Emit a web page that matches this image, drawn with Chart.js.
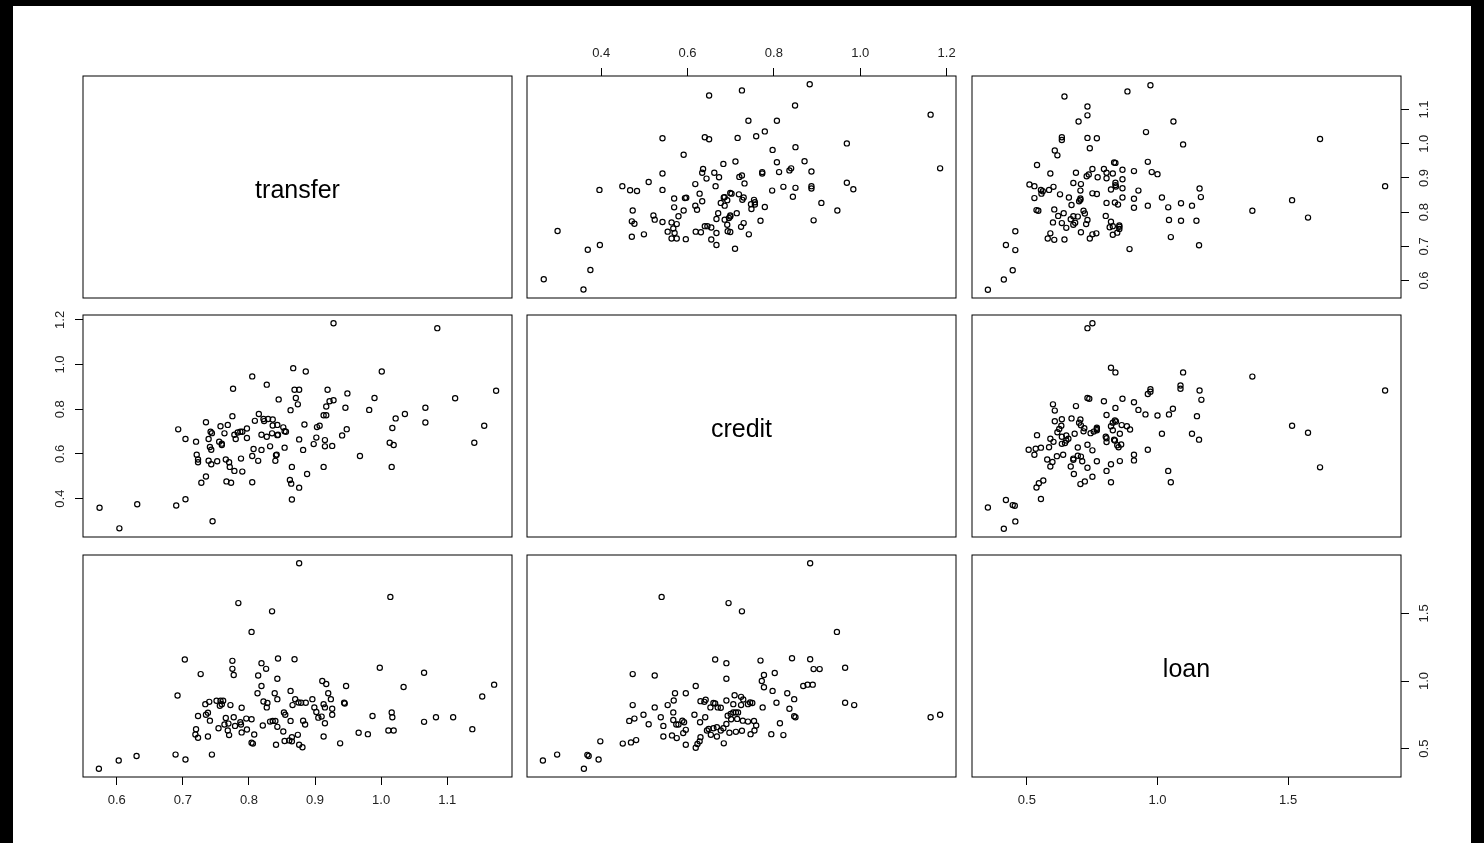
<!DOCTYPE html>
<html>
<head>
<meta charset="utf-8">
<title>pairs</title>
<script src="https://cdn.jsdelivr.net/npm/chart.js@4.4.1/dist/chart.umd.min.js"></script>
<style>
    body { margin: 0; background: #000; width: 1484px; height: 843px; overflow: hidden; }
    #frame { position: absolute; left: 13px; top: 6px; width: 1458px; height: 837px; background: #fff; }
    .panel { position: absolute; }
</style>
</head>
<body>
<div id="frame"></div>
<div id="output"></div>
<script>
// variable names (diagonal)
var vars = ['transfer', 'credit', 'loan'];

// tick labels per variable
var tickTransfer = [0.6, 0.7, 0.8, 0.9, 1.0, 1.1];
var tickCredit = [0.4, 0.6, 0.8, 1.0, 1.2];
var tickLoan = [0.5, 1.0, 1.5];

// transfer / credit pairs
var tcTransfer = [0.574,0.604,0.631,0.690,0.704,0.745,0.693,0.704,0.720,0.735,0.739,0.742,0.744,0.741,0.743,0.721,0.723,0.723,0.739,0.743,
    0.752,0.735,0.728,0.757,0.768,0.775,0.763,0.755,0.759,0.759,0.765,0.770,0.771,0.778,0.766,0.773,0.790,0.805,0.788,0.778,
    0.780,0.783,0.787,0.790,0.797,0.797,0.776,0.805,0.827,0.809,0.815,0.822,0.823,0.829,0.836,0.836,0.843,0.852,0.854,0.856,
    0.843,0.844,0.819,0.827,0.835,0.807,0.819,0.805,0.814,0.832,0.841,0.842,0.840,0.854,0.845,0.863,0.867,0.869,0.876,0.871,
    0.874,0.876,0.865,0.862,0.864,0.876,0.865,
    0.928,1.085,0.886,1.001,0.919,0.949,0.990,0.922,0.928,0.917,0.946,0.982,0.913,0.917,1.022,1.036,1.067,1.067,1.112,1.174,
    1.156,1.141,1.017,0.884,0.903,0.907,0.948,0.941,0.882,0.902,0.898,0.915,0.915,0.926,0.968,1.013,1.019,1.016,0.913,0.888];
var tcCredit = [0.359,0.267,0.375,0.369,0.397,0.299,0.710,0.667,0.655,0.742,0.667,0.699,0.693,0.631,0.619,0.596,0.575,0.563,0.570,0.554,
    0.567,0.499,0.471,0.724,0.730,0.769,0.692,0.655,0.646,0.640,0.575,0.563,0.542,0.524,0.477,0.471,0.521,0.473,0.579,0.686,
    0.667,0.696,0.699,0.699,0.714,0.671,0.892,0.947,0.910,0.748,0.779,0.756,0.747,0.756,0.754,0.727,0.730,0.719,0.702,0.699,
    0.684,0.686,0.686,0.677,0.692,0.622,0.618,0.591,0.569,0.634,0.594,0.597,0.569,0.628,0.844,0.796,0.984,0.887,0.887,0.850,
    0.822,0.665,0.542,0.483,0.467,0.449,0.396,
    1.185,1.163,0.969,0.969,0.887,0.871,0.850,0.836,0.840,0.812,0.807,0.797,0.773,0.773,0.759,0.779,0.807,0.741,0.849,0.883,
    0.726,0.650,0.716,0.732,0.720,0.726,0.711,0.683,0.618,0.673,0.644,0.662,0.634,0.636,0.591,0.650,0.640,0.542,0.542,0.510];

// transfer / loan pairs
var tlTransfer = [0.573,0.603,0.630,0.689,0.704,0.744,0.692,0.703,0.727,0.784,0.835,0.804,0.876,0.775,0.775,0.777,0.819,0.826,0.844,0.869,
    0.814,0.843,0.819,0.813,0.822,0.828,0.827,0.839,0.843,0.863,0.870,0.866,0.875,0.853,0.855,0.863,0.734,0.740,0.751,0.757,
    0.761,0.756,0.759,0.772,0.789,0.723,0.735,0.738,0.741,0.720,0.719,0.723,0.738,0.754,0.765,0.763,0.769,0.777,0.768,0.770,
    0.779,0.787,0.788,0.796,0.804,0.789,0.797,0.808,0.804,0.806,0.821,0.832,0.836,0.840,0.843,0.841,0.852,0.854,0.861,0.865,
    0.865,0.874,0.876,
    1.014,0.998,1.065,1.034,1.171,1.153,1.138,1.109,1.083,1.065,1.016,1.017,1.011,1.019,0.987,0.980,0.966,0.938,0.913,0.947,
    0.911,0.917,0.920,0.924,0.896,0.944,0.945,0.899,0.913,0.915,0.926,0.926,0.902,0.905,0.910,0.915,0.882,0.885,0.879,0.886,
    0.881];
var tlLoan = [0.351,0.412,0.446,0.456,0.420,0.456,0.893,1.159,1.051,1.576,1.515,1.363,1.871,1.149,1.090,1.044,1.132,1.090,1.166,1.161,
    1.041,1.017,0.963,0.910,0.849,0.837,0.805,0.910,0.866,0.927,0.866,0.822,0.841,0.768,0.751,0.705,0.829,0.846,0.854,0.854,
    0.854,0.817,0.829,0.822,0.802,0.741,0.751,0.766,0.707,0.644,0.605,0.580,0.590,0.651,0.727,0.678,0.685,0.732,0.634,0.600,
    0.668,0.695,0.678,0.722,0.717,0.620,0.641,0.605,0.544,0.537,0.671,0.700,0.705,0.705,0.661,0.529,0.627,0.556,0.561,0.554,
    0.585,0.602,0.529,
    1.622,1.098,1.061,0.956,0.973,0.885,0.644,0.732,0.732,0.698,0.768,0.732,0.634,0.634,0.741,0.607,0.617,0.539,0.590,0.963,
    1.000,0.978,0.910,0.866,0.866,0.839,0.834,0.805,0.829,0.805,0.795,0.751,0.771,0.729,0.737,0.688,0.707,0.678,0.839,0.839,
    0.510];

// credit / loan pairs
var clCredit = [0.265,0.298,0.360,0.368,0.371,0.394,0.398,0.450,0.469,0.481,0.473,0.524,0.540,0.695,0.726,0.664,0.690,0.690,0.619,0.596,
    0.571,0.568,0.554,0.524,0.473,0.498,0.465,0.477,0.510,0.538,0.544,0.544,0.564,0.575,0.567,0.567,0.574,0.579,0.588,0.592,
    0.596,0.590,0.596,0.616,0.629,0.641,0.630,0.642,0.639,0.660,0.664,0.670,0.677,0.653,0.630,0.619,0.623,0.628,0.645,0.649,
    0.654,0.660,0.668,0.677,0.668,0.684,0.683,0.690,0.693,0.700,0.706,0.712,0.717,0.701,0.715,0.697,0.712,0.726,0.690,0.709,
    0.724,0.706,0.724,0.728,
    0.884,0.946,0.769,0.842,0.884,0.892,0.906,0.965,0.777,0.802,0.772,0.777,0.797,0.868,0.878,0.890,0.831,0.847,0.806,0.774,
    0.836,0.847,0.850,0.814,0.794,0.822,0.965,0.986,1.163,1.185,0.729,0.740,0.745,0.750,0.740,0.754,0.759,0.755,0.746];
var clLoan = [0.412,0.456,0.351,0.454,0.446,0.420,0.554,0.537,0.546,0.563,1.051,1.041,1.622,1.576,1.515,1.159,1.132,1.017,0.963,0.910,
    0.910,0.856,0.822,0.805,0.822,0.751,0.705,0.722,0.680,0.732,0.668,0.590,0.598,0.578,0.768,0.712,0.678,0.678,0.707,0.695,
    0.639,0.615,0.529,0.751,0.695,0.732,0.851,0.861,0.846,0.837,0.834,0.805,0.802,0.805,0.585,0.507,0.534,0.554,0.634,0.646,
    0.602,0.651,0.659,0.634,0.590,0.539,0.651,0.683,0.744,0.756,0.768,0.768,0.768,0.717,0.720,0.617,0.624,0.632,0.856,0.895,
    0.883,0.829,0.822,0.707,
    1.871,1.363,1.151,1.168,1.161,1.088,1.088,1.098,1.044,1.059,1.000,0.954,0.927,0.963,0.973,0.973,0.910,0.866,0.839,0.805,
    0.795,0.739,0.732,0.688,0.607,0.600,0.839,0.822,0.732,0.751,0.863,0.829,0.841,0.837,0.700,0.705,0.671,0.634,0.607];

var ticks = { transfer: tickTransfer, credit: tickCredit, loan: tickLoan };
var series = {
    'transfer|credit': [tcTransfer, tcCredit],
    'transfer|loan': [tlTransfer, tlLoan],
    'credit|loan': [clCredit, clLoan]
};

// panel geometry (plot boxes)
var colLeft = [83, 527, 972];
var rowTop = [76, 315, 555];
var boxW = 429, boxH = 222, M = 40;
var tickFont = { family: '"Liberation Sans", Arial, sans-serif', size: 13 };

// axis range like R: data range + 4%
function limits(v) {
    var all = [];
    Object.keys(series).forEach(function (k) {
        var names = k.split('|');
        if (names[0] === v) all = all.concat(series[k][0]);
        if (names[1] === v) all = all.concat(series[k][1]);
    });
    var lo = Math.min.apply(null, all), hi = Math.max.apply(null, all);
    var d = (hi - lo) * 0.04;
    return [lo - d, hi + d];
}

function points(xv, yv) {
    if (xv === yv) return [];
    var s = series[xv + '|' + yv], flip = false;
    if (!s) { s = series[yv + '|' + xv]; flip = true; }
    var xs = flip ? s[1] : s[0], ys = flip ? s[0] : s[1];
    return xs.map(function (x, i) { return { x: x, y: ys[i] }; });
}

function axis(v, pos, horizontal) {
    var lim = limits(v);
    var show = pos !== null;
    return {
        type: 'linear',
        position: pos || (horizontal ? 'bottom' : 'left'),
        min: lim[0], max: lim[1], bounds: 'data',
        grid: { display: show, drawOnChartArea: false, drawTicks: true, tickLength: 8, color: '#000', lineWidth: 1 },
        border: { display: false },
        ticks: {
            display: show, autoSkip: false, color: '#222', font: tickFont,
            minRotation: horizontal ? 0 : 90, maxRotation: horizontal ? 0 : 90,
            crossAlign: horizontal ? 'near' : 'center',
            padding: horizontal ? (pos === 'top' ? 7 : 8) : 6,
            callback: function (value) { return value.toFixed(1); }
        },
        afterBuildTicks: function (scale) {
            scale.ticks = ticks[v].map(function (t) { return { value: t }; });
        },
        afterFit: function (scale) {
            if (horizontal) scale.height = M; else scale.width = M;
        }
    };
}

// box round the panel and name on the diagonal
var panelBox = {
    id: 'panelBox',
    afterDraw: function (chart, args, opts) {
        var a = chart.chartArea, ctx = chart.ctx;
        ctx.save();
        ctx.strokeStyle = '#000';
        ctx.lineWidth = 1;
        ctx.strokeRect(a.left, a.top, a.right - a.left, a.bottom - a.top);
        if (opts.label) {
            ctx.font = '25px "Liberation Sans", Arial, sans-serif';
            ctx.fillStyle = '#000';
            ctx.textAlign = 'center';
            ctx.textBaseline = 'middle';
            ctx.fillText(opts.label, (a.left + a.right) / 2, (a.top + a.bottom) / 2 + 4);
        }
        ctx.restore();
    }
};

function makePanel(i, j) {
    var out = document.getElementById('output');
    var div = document.createElement('div');
    div.className = 'panel';
    div.style.left = (colLeft[j] - M) + 'px';
    div.style.top = (rowTop[i] - M) + 'px';
    var canvas = document.createElement('canvas');
    canvas.width = boxW + 2 * M;
    canvas.height = boxH + 2 * M;
    div.appendChild(canvas);
    out.appendChild(div);

    // R pairs(): alternating axes on the outer panels
    var xPos = null, yPos = null;
    if (i === 0 && j % 2 === 1) xPos = 'top';
    if (i === 2 && j % 2 === 0) xPos = 'bottom';
    if (j === 0 && i % 2 === 1) yPos = 'left';
    if (j === 2 && i % 2 === 0) yPos = 'right';
    var xSide = xPos || 'bottom', ySide = yPos || 'left';

    new Chart(canvas, {
        type: 'scatter',
        data: {
            datasets: [{
                data: points(vars[j], vars[i]),
                pointRadius: 2.6,
                pointHoverRadius: 2.6,
                borderWidth: 1.2,
                borderColor: '#000',
                backgroundColor: 'rgba(0,0,0,0)'
            }]
        },
        options: {
            responsive: false,
            devicePixelRatio: 1,
            animation: false,
            events: [],
            layout: {
                padding: {
                    top: xSide === 'bottom' ? M : 0,
                    bottom: xSide === 'top' ? M : 0,
                    left: ySide === 'right' ? M : 0,
                    right: ySide === 'left' ? M : 0
                }
            },
            scales: {
                x: axis(vars[j], xPos, true),
                y: axis(vars[i], yPos, false)
            },
            plugins: {
                legend: { display: false },
                tooltip: { enabled: false },
                panelBox: { label: i === j ? vars[i] : '' }
            }
        },
        plugins: [panelBox]
    });
}

for (var i = 0; i < 3; i++) {
    for (var j = 0; j < 3; j++) {
        makePanel(i, j);
    }
}
</script>
</body>
</html>
